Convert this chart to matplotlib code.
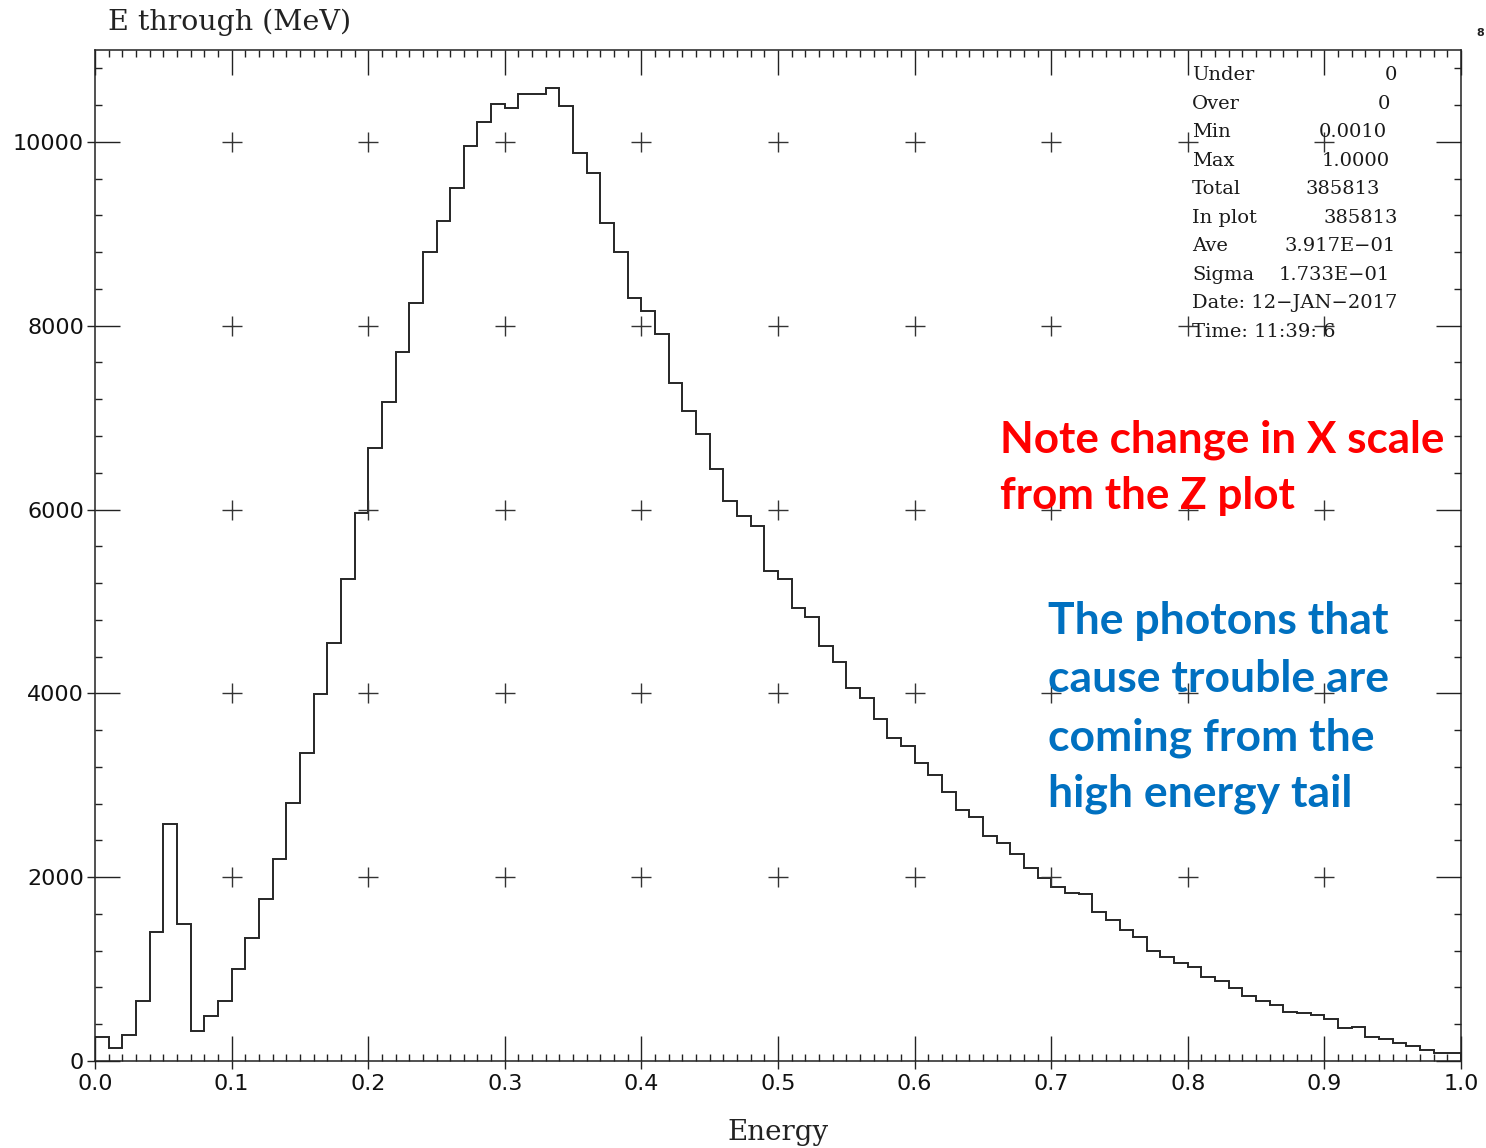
import numpy as np
import matplotlib
matplotlib.use("Agg")
import matplotlib.pyplot as plt

# ---- data: 100 bins of width 0.01 MeV from 0 to 1 ----
bin_edges = np.linspace(0.0, 1.0, 101)
counts = [
    258, 138, 283, 650, 1407, 2579, 1491, 330, 493, 653,
    998, 1342, 1763, 2195, 2804, 3354, 3993, 4549, 5243, 5958,
    6667, 7166, 7715, 8250, 8805, 9139, 9500, 9951, 10214, 10410,
    10366, 10522, 10518, 10584, 10392, 9877, 9659, 9115, 8807, 8299,
    8160, 7911, 7378, 7070, 6819, 6445, 6094, 5935, 5822, 5332,
    5241, 4925, 4835, 4516, 4345, 4062, 3953, 3718, 3518, 3425,
    3242, 3108, 2931, 2731, 2659, 2448, 2376, 2252, 2097, 1988,
    1897, 1832, 1817, 1625, 1534, 1425, 1353, 1200, 1135, 1063,
    1019, 911, 874, 791, 711, 656, 609, 530, 526, 501,
    454, 356, 374, 258, 236, 200, 163, 120, 91, 91,
]
x_major = np.round(np.arange(0, 1.01, 0.1), 1)
x_labels = [f"{v:.1f}" for v in x_major]
y_major = [0, 2000, 4000, 6000, 8000, 10000]
y_labels = [str(v) for v in y_major]

stats_labels = ["Under", "Over", "Min", "Max", "Total", "In plot", "Ave", "Sigma"]
stats_values = ["0", "0", "0.0010", "1.0000", "385813", "385813",
                "3.917E\u221201", "1.733E\u221201"]
stats_value_right = [1397, 1390, 1387, 1390, 1380, 1398, 1396, 1390]
date_text = "Date: 12\u2212JAN\u22122017"
time_text = "Time: 11:39: 6"

W, H = 1486, 1148
fig = plt.figure(figsize=(W / 100, H / 100), dpi=100)
pos = [95 / W, 1 - 1061 / H, (1461 - 95) / W, (1061 - 50) / H]
ax = fig.add_axes(pos)

ax.stairs(counts, bin_edges, color="#262626", lw=1.4)

ax.set_xlim(0, 1)
ax.set_ylim(0, 11000)
ax.set_xticks(x_major)
ax.set_xticklabels(x_labels)
ax.set_xticks(np.arange(0, 1.0001, 0.01), minor=True)
ax.set_yticks(y_major)
ax.set_yticklabels(y_labels)
ax.set_yticks(np.arange(0, 11001, 400), minor=True)
ax.tick_params(which="both", direction="in", top=True, right=True, width=1.0, color="#222222")
ax.tick_params(which="major", length=18)
ax.tick_params(which="minor", length=5)
ax.tick_params(axis="x", which="major", pad=9, labelsize=16)
ax.tick_params(axis="y", which="major", pad=8, labelsize=16)
for lab in ax.get_xticklabels() + ax.get_yticklabels():
    lab.set_fontfamily("DejaVu Sans")
    lab.set_color("#111111")
for sp in ax.spines.values():
    sp.set_linewidth(1.1)
    sp.set_color("#222222")

# outward stubs of the major ticks
ax2 = fig.add_axes(pos, frameon=False)
ax2.set_xlim(0, 1)
ax2.set_ylim(0, 11000)
ax2.set_xticks(x_major)
ax2.set_yticks(y_major)
ax2.tick_params(direction="out", length=6, width=1.0, color="#222222",
                labelbottom=False, labelleft=False)
ax2.patch.set_visible(False)

# grid crosses at interior major intersections
gx, gy = np.meshgrid(x_major[1:-1], y_major[1:])
ax.plot(gx.ravel(), gy.ravel(), "+", color="#333333", ms=14, mew=1.0, zorder=1)

# titles
serif = "DejaVu Serif"
fig.text(108 / W, 1 - 22 / H, "E through (MeV)", family=serif, fontsize=20.5,
         ha="left", va="center", color="#222222")
fig.text(778 / W, 1 - 1132 / H, "Energy", family=serif, fontsize=20,
         ha="center", va="center", color="#222222")
fig.text(1480 / W, 1 - 33 / H, "8", family="DejaVu Sans", fontsize=8,
         fontweight="bold", ha="center", va="center", color="#222222")

# statistics block
row_y = [75, 104, 132, 161, 189, 218, 246, 275]
for lab, val, xr, yy in zip(stats_labels, stats_values, stats_value_right, row_y):
    fig.text(1192 / W, 1 - yy / H, lab, family=serif, fontsize=14,
             ha="left", va="center", color="#1a1a1a")
    fig.text(xr / W, 1 - yy / H, val, family=serif, fontsize=14,
             ha="right", va="center", color="#1a1a1a")
fig.text(1192 / W, 1 - 303 / H, date_text, family=serif, fontsize=14,
         ha="left", va="center", color="#1a1a1a")
fig.text(1192 / W, 1 - 332 / H, time_text, family=serif, fontsize=14,
         ha="left", va="center", color="#1a1a1a")

# annotations
red_lines = ["Note change in X scale", "from the Z plot"]
red_base = [453, 509]
for t, yb in zip(red_lines, red_base):
    fig.text(1000 / W, 1 - yb / H, t, family="Lato", fontweight="bold",
             fontsize=31.7, color="#FF0000", ha="left", va="baseline")
blue_lines = ["The photons that", "cause trouble are", "coming from the", "high energy tail"]
blue_base = [634, 692, 750, 807]
for t, yb in zip(blue_lines, blue_base):
    fig.text(1048 / W, 1 - yb / H, t, family="Lato", fontweight="bold",
             fontsize=32, color="#0070C0", ha="left", va="baseline")

fig.savefig("out.png", dpi=100)
